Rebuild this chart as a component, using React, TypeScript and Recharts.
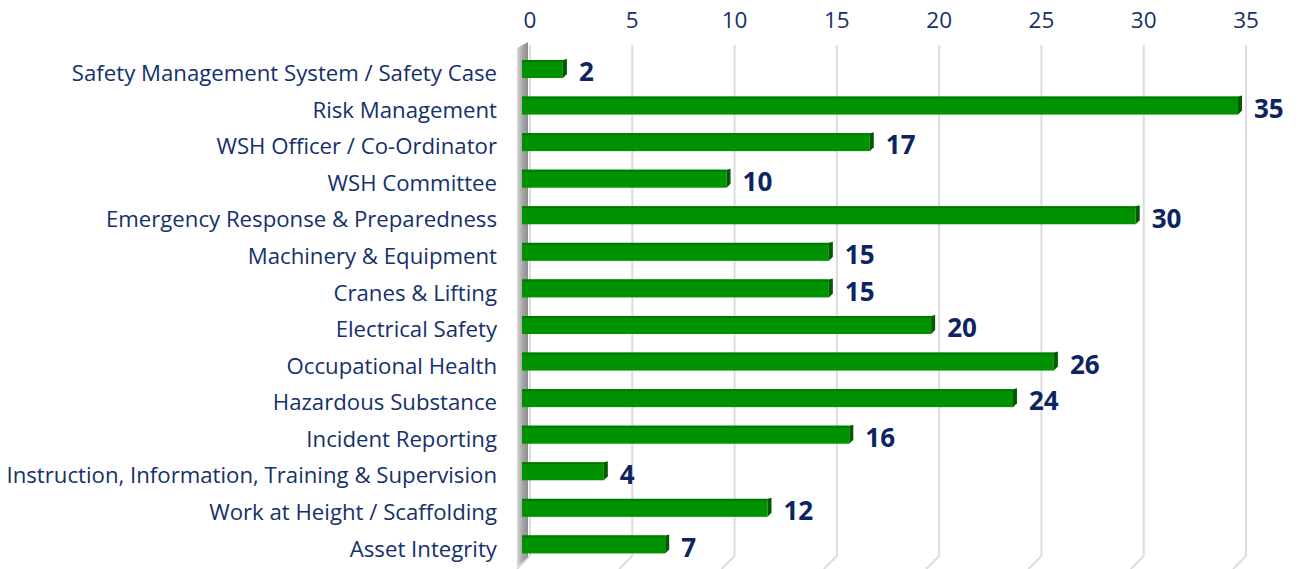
import { Bar, BarChart, CartesianGrid, Customized, LabelList, XAxis, YAxis } from "recharts";
import { JSX } from "react";

const categories = [
  "Safety Management System / Safety Case",
  "Risk Management",
  "WSH Officer / Co-Ordinator",
  "WSH Committee",
  "Emergency Response & Preparedness",
  "Machinery & Equipment",
  "Cranes & Lifting",
  "Electrical Safety",
  "Occupational Health",
  "Hazardous Substance",
  "Incident Reporting",
  "Instruction, Information, Training & Supervision",
  "Work at Height / Scaffolding",
  "Asset Integrity",
];

const counts = [2, 35, 17, 10, 30, 15, 15, 20, 26, 24, 16, 4, 12, 7];

const xTicks = [0, 5, 10, 15, 20, 25, 30, 35];

const data = categories.map((name, i) => ({ name, count: counts[i] }));

const NAVY = "#15306b";
const FONT = "'Open Sans', 'Noto Sans', sans-serif";

// bars sit on the front plane, a few px left of the back-wall grid
const DEPTH = 8;

function Bar3D(props: any): JSX.Element {
  const { x, y, width, height } = props;
  const fx = x - DEPTH;
  const w = Math.max(width, 0);
  return (
    <g>
      <rect x={fx} y={y} width={w} height={height} fill="#009200" />
      <rect x={fx} y={y} width={w} height={2} fill="#007a00" />
      <polygon
        points={`${fx + w},${y} ${fx + w + 4},${y - 1} ${fx + w + 4},${y + height - 4} ${fx + w},${y + height}`}
        fill="#005a00"
      />
    </g>
  );
}

function GridLine(props: any): JSX.Element {
  const { x1, y1, y2 } = props;
  return (
    <g key={props.key}>
      <line x1={x1} y1={y1 - 6} x2={x1} y2={y2 - 7} stroke="#dcdcdc" strokeWidth={2} />
      <line x1={x1} y1={y2 - 7} x2={x1 - 13} y2={y2 + 6} stroke="#dcdcdc" strokeWidth={2} />
    </g>
  );
}

function Wall(): JSX.Element {
  return (
    <g>
      <defs>
        <linearGradient id="wall" x1="0" x2="1" y1="0" y2="0">
          <stop offset="0" stopColor="#d8d8d8" />
          <stop offset="0.5" stopColor="#a8a8a8" />
          <stop offset="1" stopColor="#8c8c8c" />
        </linearGradient>
      </defs>
      <polygon points="517,48 528,42 528,557 517,567" fill="url(#wall)" />
    </g>
  );
}

export default function App(): JSX.Element {
  return (
    <div style={{ position: "absolute", left: 0, top: 0 }}>
      <BarChart
        width={1301}
        height={569}
        data={data}
        layout="vertical"
        margin={{ top: 21, right: 55, bottom: 6, left: 0 }}
        barCategoryGap={19}
      >
        <Customized component={Wall} />
        <CartesianGrid horizontal={false} vertical={GridLine} />
        <XAxis
          type="number"
          orientation="top"
          domain={[0, 35]}
          ticks={xTicks}
          axisLine={false}
          tickLine={false}
          tickMargin={17}
          height={30}
          tick={{ fill: NAVY, fontSize: 22.5, fontFamily: FONT }}
        />
        <YAxis
          type="category"
          dataKey="name"
          width={530}
          axisLine={false}
          tickLine={false}
          tickMargin={27}
          interval={0}
          tick={{ fill: NAVY, fontSize: 22.2, fontFamily: FONT, dy: 4 }}
        />
        <Bar dataKey="count" barSize={18} shape={Bar3D} isAnimationActive={false}>
          <LabelList
            dataKey="count"
            position="right"
            offset={8}
            fill="#0c2461"
            fontSize={26}
            fontWeight={700}
            fontFamily={FONT}
            dy={3}
          />
        </Bar>
      </BarChart>
    </div>
  );
}
